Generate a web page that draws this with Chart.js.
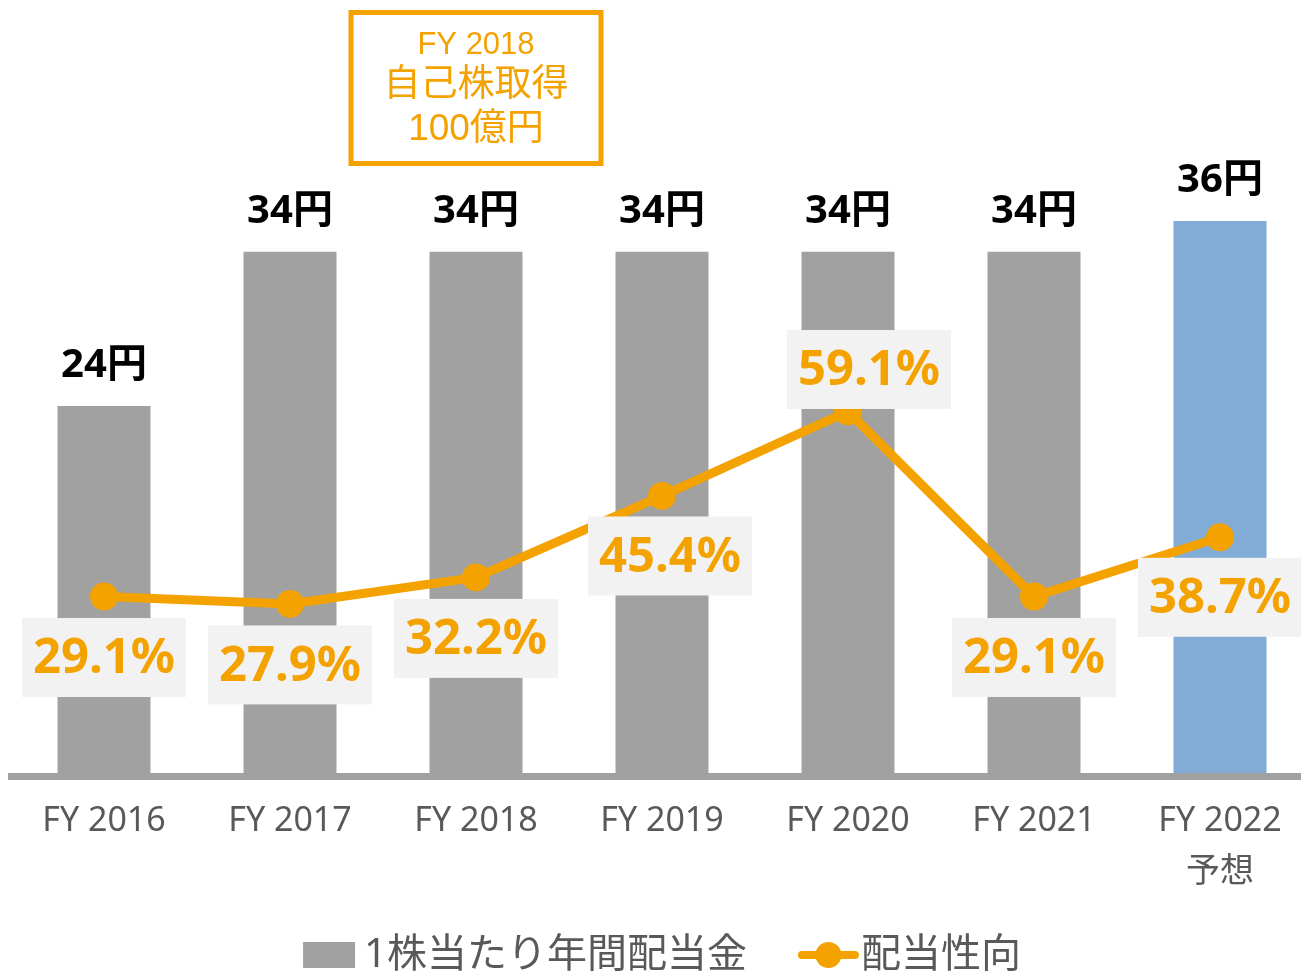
<!DOCTYPE html>
<html lang="ja">
<head>
<meta charset="UTF-8">
<title>配当の推移</title>
<script src="https://cdn.jsdelivr.net/npm/chart.js"></script>
<style>
  html, body { margin: 0; padding: 0; background: #fff; overflow: hidden; }
  /* the plot runs a little past the right edge of the window, as in the original */
  #wrap { width: 1313px; height: 974px; }
</style>
</head>
<body>
<div id="wrap"><canvas id="dividend"></canvas></div>
<script>
// data
const years = ['FY 2016', 'FY 2017', 'FY 2018', 'FY 2019', 'FY 2020', 'FY 2021', ['FY 2022', '予想']];
const dividend = [24, 34, 34, 34, 34, 34, 36];          // 円
const payoutRatio = [29.1, 27.9, 32.2, 45.4, 59.1, 29.1, 38.7]; // %
const seriesNames = ['1株当たり年間配当金', '配当性向'];
const noteLines = ['FY 2018', '自己株取得', '100億円'];
const noteYear = 2; // index of FY 2018

// styling
const GRAY = '#a0a1a0';
const BLUE = '#80acd6';
const ORANGE = '#f4a200';
const TEXT = '#595959';
const barColors = [GRAY, GRAY, GRAY, GRAY, GRAY, GRAY, BLUE];
// where each % box sits relative to its point (px)
const labelOffsets = [[0, 61], [0, 61], [0, 61], [8, 60], [21, -42], [0, 61], [0, 60]];

const decorations = {
    id: 'decorations',
    afterDatasetsDraw(chart) {
        const ctx = chart.ctx;
        const xs = chart.scales.x, ys = chart.scales.y, ys2 = chart.scales.y2;
        ctx.save();
        ctx.textAlign = 'center';
        ctx.textBaseline = 'middle';

        // 円 labels over the bars
        ctx.font = 'bold 40px "Noto Sans", "Noto Sans CJK JP"';
        ctx.fillStyle = '#000';
        dividend.forEach((v, i) => {
            ctx.fillText(v + '円', xs.getPixelForValue(i), ys.getPixelForValue(v) - 40);
        });

        // % boxes
        ctx.font = 'bold 49px "Noto Sans"';
        payoutRatio.forEach((v, i) => {
            const txt = v.toFixed(1) + '%';
            const w = ctx.measureText(txt).width + 22, h = 79;
            const cx = xs.getPixelForValue(i) + labelOffsets[i][0];
            const cy = ys2.getPixelForValue(v) + labelOffsets[i][1];
            ctx.fillStyle = '#f2f2f2';
            ctx.fillRect(cx - w / 2, cy - h / 2, w, h);
            ctx.fillStyle = ORANGE;
            ctx.fillText(txt, cx, cy + 2);
        });
        ctx.restore();
    },
    afterDraw(chart) {
        const ctx = chart.ctx;
        const xs = chart.scales.x;
        const area = chart.chartArea;
        ctx.save();

        // FY 2018 buyback note
        const nx = xs.getPixelForValue(noteYear);
        ctx.strokeStyle = ORANGE;
        ctx.lineWidth = 5;
        ctx.strokeRect(nx - 125, 12.5, 250, 151);
        ctx.fillStyle = ORANGE;
        ctx.textAlign = 'center';
        ctx.textBaseline = 'middle';
        ctx.font = '31px "Liberation Sans", "Noto Sans CJK JP"';
        ctx.fillText(noteLines[0], nx, 45);
        ctx.font = '37px "Liberation Sans", "Noto Sans CJK JP"';
        ctx.fillText(noteLines[1], nx, 86);
        ctx.fillText(noteLines[2], nx, 130);

        // legend
        ctx.font = '40px "Noto Sans", "Noto Sans CJK JP"';
        ctx.textAlign = 'left';
        const w1 = ctx.measureText(seriesNames[0]).width;
        const w2 = ctx.measureText(seriesNames[1]).width;
        const total = 52 + 9 + w1 + 51 + 61 + 2 + w2;
        let x = (area.left + area.right) / 2 - total / 2;
        const ly = 955;
        ctx.fillStyle = GRAY;
        ctx.fillRect(x, ly - 13, 52, 26);
        x += 52 + 9;
        ctx.fillStyle = TEXT;
        ctx.fillText(seriesNames[0], x, ly + 1);
        x += w1 + 51;
        ctx.strokeStyle = ORANGE;
        ctx.lineWidth = 8;
        ctx.lineCap = 'round';
        ctx.beginPath();
        ctx.moveTo(x + 4, ly);
        ctx.lineTo(x + 57, ly);
        ctx.stroke();
        ctx.fillStyle = ORANGE;
        ctx.beginPath();
        ctx.arc(x + 30.5, ly, 13, 0, Math.PI * 2);
        ctx.fill();
        x += 61 + 2;
        ctx.fillStyle = TEXT;
        ctx.fillText(seriesNames[1], x, ly + 1);
        ctx.restore();
    }
};

new Chart(document.getElementById('dividend'), {
    type: 'bar',
    data: {
        labels: years,
        datasets: [{
            type: 'line',
            label: seriesNames[1],
            data: payoutRatio,
            yAxisID: 'y2',
            borderColor: ORANGE,
            backgroundColor: ORANGE,
            borderWidth: 9,
            pointRadius: 14,
            pointBorderWidth: 0,
            pointBackgroundColor: ORANGE,
            tension: 0,
            clip: false,
            order: 0
        }, {
            label: seriesNames[0],
            data: dividend,
            yAxisID: 'y',
            backgroundColor: barColors,
            barPercentage: 0.5,
            categoryPercentage: 1,
            order: 1
        }]
    },
    options: {
        responsive: true,
        maintainAspectRatio: false,
        devicePixelRatio: 1,
        animation: false,
        layout: { autoPadding: false, padding: { left: 11, right: 0, top: 5, bottom: 56 } },
        plugins: {
            legend: { display: false },
            tooltip: { enabled: false }
        },
        scales: {
            x: {
                grid: { display: false, drawTicks: false },
                border: { display: true, color: GRAY, width: 7, z: 1 },
                ticks: {
                    color: TEXT,
                    padding: 20,
                    maxRotation: 0,
                    autoSkip: false,
                    font: { family: '"Noto Sans", "Noto Sans CJK JP"', size: 34, lineHeight: 1.5 }
                }
            },
            y: { display: false, min: 0, max: 50 },
            y2: { display: false, position: 'right', min: 0, max: 125 }
        }
    },
    plugins: [decorations]
});
</script>
</body>
</html>
